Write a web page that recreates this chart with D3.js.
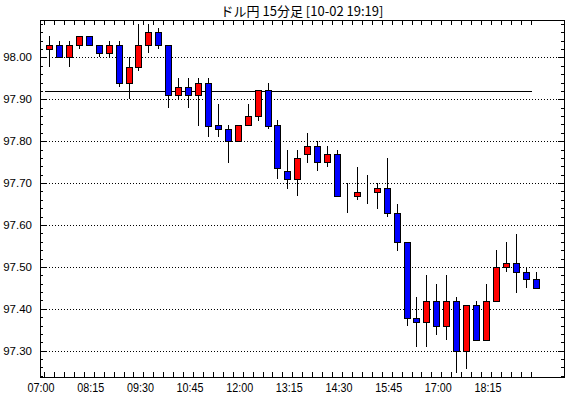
<!DOCTYPE html>
<html>
<head>
<meta charset="utf-8">
<script src="https://cdn.jsdelivr.net/npm/d3@7"></script>
<style>
    body { margin: 0; background: #ffffff; }
    #chart { width: 570px; height: 398px; }
    .axis-label { font-family: "Liberation Sans", Arial, sans-serif; fill: #000; }
    .chart-title { font-family: "Noto Sans CJK JP", sans-serif; font-size: 13px; fill: #000; }
</style>
</head>
<body>
<div id="chart"></div>
<script>
// 15 minute candles, 10-02
const times = ["07:00", "07:15", "07:30", "07:45", "08:00", "08:15", "08:30", "08:45", "09:00", "09:15",
    "09:30", "09:45", "10:00", "10:15", "10:30", "10:45", "11:00", "11:15", "11:30", "11:45",
    "12:00", "12:15", "12:30", "12:45", "13:00", "13:15", "13:30", "13:45", "14:00", "14:15",
    "14:30", "14:45", "15:00", "15:15", "15:30", "15:45", "16:00", "16:15", "16:30", "16:45",
    "17:00", "17:15", "17:30", "17:45", "18:00", "18:15", "18:30", "18:45", "19:00", "19:15"];
const openValues = [98.020, 98.030, 98.000, 98.030, 98.050, 98.030, 98.010, 98.030, 97.938, 97.978,
    98.029, 98.060, 98.029, 97.910, 97.929, 97.910, 97.938, 97.839, 97.829, 97.800,
    97.839, 97.860, 97.921, 97.839, 97.729, 97.710, 97.769, 97.789, 97.750, 97.769,
    97.668, 97.668, 97.679, 97.679, 97.688, 97.629, 97.559, 97.378, 97.368, 97.418,
    97.358, 97.418, 97.299, 97.409, 97.326, 97.418, 97.500, 97.510, 97.488, 97.470];
const highValues = [98.050, 98.040, 98.040, 98.050, 98.050, 98.030, 98.040, 98.040, 98.000, 98.079,
    98.079, 98.070, 98.029, 97.950, 97.950, 97.950, 97.950, 97.889, 97.839, 97.839,
    97.889, 97.921, 97.938, 97.850, 97.779, 97.779, 97.819, 97.800, 97.789, 97.779,
    97.700, 97.738, 97.720, 97.700, 97.760, 97.651, 97.559, 97.428, 97.480, 97.460,
    97.480, 97.428, 97.409, 97.418, 97.460, 97.540, 97.560, 97.579, 97.500, 97.488];
const lowValues = [97.977, 98.000, 97.978, 98.020, 98.030, 98.000, 98.000, 97.929, 97.900, 97.968,
    98.010, 98.019, 97.879, 97.900, 97.879, 97.837, 97.809, 97.809, 97.748, 97.800,
    97.839, 97.849, 97.829, 97.709, 97.687, 97.668, 97.749, 97.729, 97.738, 97.668,
    97.629, 97.659, 97.649, 97.637, 97.619, 97.537, 97.358, 97.308, 97.308, 97.337,
    97.326, 97.247, 97.257, 97.326, 97.326, 97.418, 97.488, 97.438, 97.450, 97.450];
const closeValues = [98.030, 98.000, 98.030, 98.050, 98.030, 98.010, 98.030, 97.938, 97.978, 98.029,
    98.060, 98.029, 97.910, 97.929, 97.910, 97.938, 97.837, 97.829, 97.800, 97.839,
    97.860, 97.921, 97.837, 97.737, 97.710, 97.760, 97.789, 97.750, 97.769, 97.668,
    97.668, 97.679, 97.679, 97.688, 97.629, 97.559, 97.378, 97.368, 97.418, 97.358,
    97.418, 97.299, 97.409, 97.326, 97.418, 97.500, 97.510, 97.488, 97.470, 97.450];
const timeLabels = ["07:00", "08:15", "09:30", "10:45", "12:00", "13:15", "14:30", "15:45", "17:00", "18:15"];
const priceLine = 97.92;
const titleText = "ドル円 15分足 [10-02 19:19]";

function renderCandleChart() {
    const width = 570;
    const height = 398;
    const plotLeft = 40;
    const plotRight = 564;
    const plotTop = 20;
    const plotBottom = 377;

    const svg = d3.select("#chart").append("svg")
        .attr("width", width)
        .attr("height", height)
        .attr("shape-rendering", "crispEdges");

    const xScale = d3.scaleBand()
        .domain(times)
        .range([44.1, 44.1 + times.length * 9.93])
        .padding(0);

    const yScale = d3.scaleLinear()
        .domain([97.236, 98.088])
        .range([plotBottom + 0.5, plotTop + 0.5]);

    const px = v => Math.round(v) + 0.5;
    const center = t => xScale(t) + xScale.bandwidth() / 2;

    // title
    svg.append("text")
        .attr("class", "chart-title")
        .attr("x", 302)
        .attr("y", 16)
        .attr("text-anchor", "middle")
        .text(titleText);

    // dotted grid lines
    const yTicks = yScale.ticks(40);
    const isMajor = v => Math.round(v * 100) % 10 === 0;
    const majorTicks = yTicks.filter(isMajor);
    svg.selectAll(".grid")
        .data(majorTicks)
        .join("line")
        .attr("class", "grid")
        .attr("x1", plotLeft + 6)
        .attr("x2", plotRight - 6)
        .attr("y1", d => px(yScale(d)))
        .attr("y2", d => px(yScale(d)))
        .attr("stroke", "#000")
        .attr("stroke-dasharray", "1,2");

    // left and right axis ticks
    svg.selectAll(".ltick")
        .data(yTicks)
        .join("line")
        .attr("class", "ltick")
        .attr("x1", plotLeft)
        .attr("x2", d => plotLeft + (isMajor(d) ? 6 : 3))
        .attr("y1", d => px(yScale(d)))
        .attr("y2", d => px(yScale(d)))
        .attr("stroke", "#000");
    svg.selectAll(".rtick")
        .data(yTicks)
        .join("line")
        .attr("class", "rtick")
        .attr("x1", plotRight)
        .attr("x2", d => plotRight - (isMajor(d) ? 6 : 3))
        .attr("y1", d => px(yScale(d)))
        .attr("y2", d => px(yScale(d)))
        .attr("stroke", "#000");

    // price labels
    svg.selectAll(".ylabel")
        .data(majorTicks)
        .join("text")
        .attr("class", "axis-label ylabel")
        .attr("x", 32)
        .attr("y", d => yScale(d) + 4)
        .attr("text-anchor", "end")
        .attr("font-size", "11.5px")
        .text(d => d3.format(".2f")(d));

    // top and bottom ticks, one per candle
    svg.selectAll(".ttick")
        .data(times)
        .join("line")
        .attr("class", "ttick")
        .attr("x1", d => px(xScale(d)))
        .attr("x2", d => px(xScale(d)))
        .attr("y1", plotTop)
        .attr("y2", plotTop + 5)
        .attr("stroke", "#000");
    svg.selectAll(".btick")
        .data(times)
        .join("line")
        .attr("class", "btick")
        .attr("x1", d => px(xScale(d)))
        .attr("x2", d => px(xScale(d)))
        .attr("y1", plotBottom)
        .attr("y2", plotBottom - 5)
        .attr("stroke", "#000");

    // time labels
    svg.selectAll(".xlabel")
        .data(timeLabels)
        .join("text")
        .attr("class", "axis-label xlabel")
        .attr("x", d => xScale(d) - 3)
        .attr("y", 392)
        .attr("text-anchor", "middle")
        .attr("font-size", "13px")
        .attr("textLength", 27)
        .attr("lengthAdjust", "spacingAndGlyphs")
        .text(d => d);

    // plot frame
    svg.append("rect")
        .attr("x", plotLeft + 0.5)
        .attr("y", plotTop + 0.5)
        .attr("width", plotRight - plotLeft)
        .attr("height", plotBottom - plotTop)
        .attr("fill", "none")
        .attr("stroke", "#000");

    // reference price line
    svg.append("line")
        .attr("x1", px(xScale(times[0])))
        .attr("x2", px(xScale(times[times.length - 1])))
        .attr("y1", px(yScale(priceLine)))
        .attr("y2", px(yScale(priceLine)))
        .attr("stroke", "#000");

    const candles = times.map((t, i) => ({
        time: t,
        open: openValues[i],
        high: highValues[i],
        low: lowValues[i],
        close: closeValues[i]
    }));

    // wicks
    svg.selectAll(".wick")
        .data(candles)
        .join("line")
        .attr("class", "wick")
        .attr("x1", d => px(center(d.time)))
        .attr("x2", d => px(center(d.time)))
        .attr("y1", d => Math.round(yScale(d.high)))
        .attr("y2", d => Math.round(yScale(d.low)))
        .attr("stroke", "#000");

    // bodies
    const bodyWidth = 6;
    svg.selectAll(".body")
        .data(candles)
        .join("rect")
        .attr("class", "body")
        .attr("x", d => Math.round(center(d.time) - bodyWidth / 2) + 0.5)
        .attr("y", d => px(yScale(Math.max(d.open, d.close))))
        .attr("width", bodyWidth)
        .attr("height", d => Math.round(yScale(Math.min(d.open, d.close))) - Math.round(yScale(Math.max(d.open, d.close))))
        .attr("fill", d => d.close > d.open ? "#ff0000" : "#0000ff")
        .attr("stroke", "#000");
}

renderCandleChart();
</script>
</body>
</html>
